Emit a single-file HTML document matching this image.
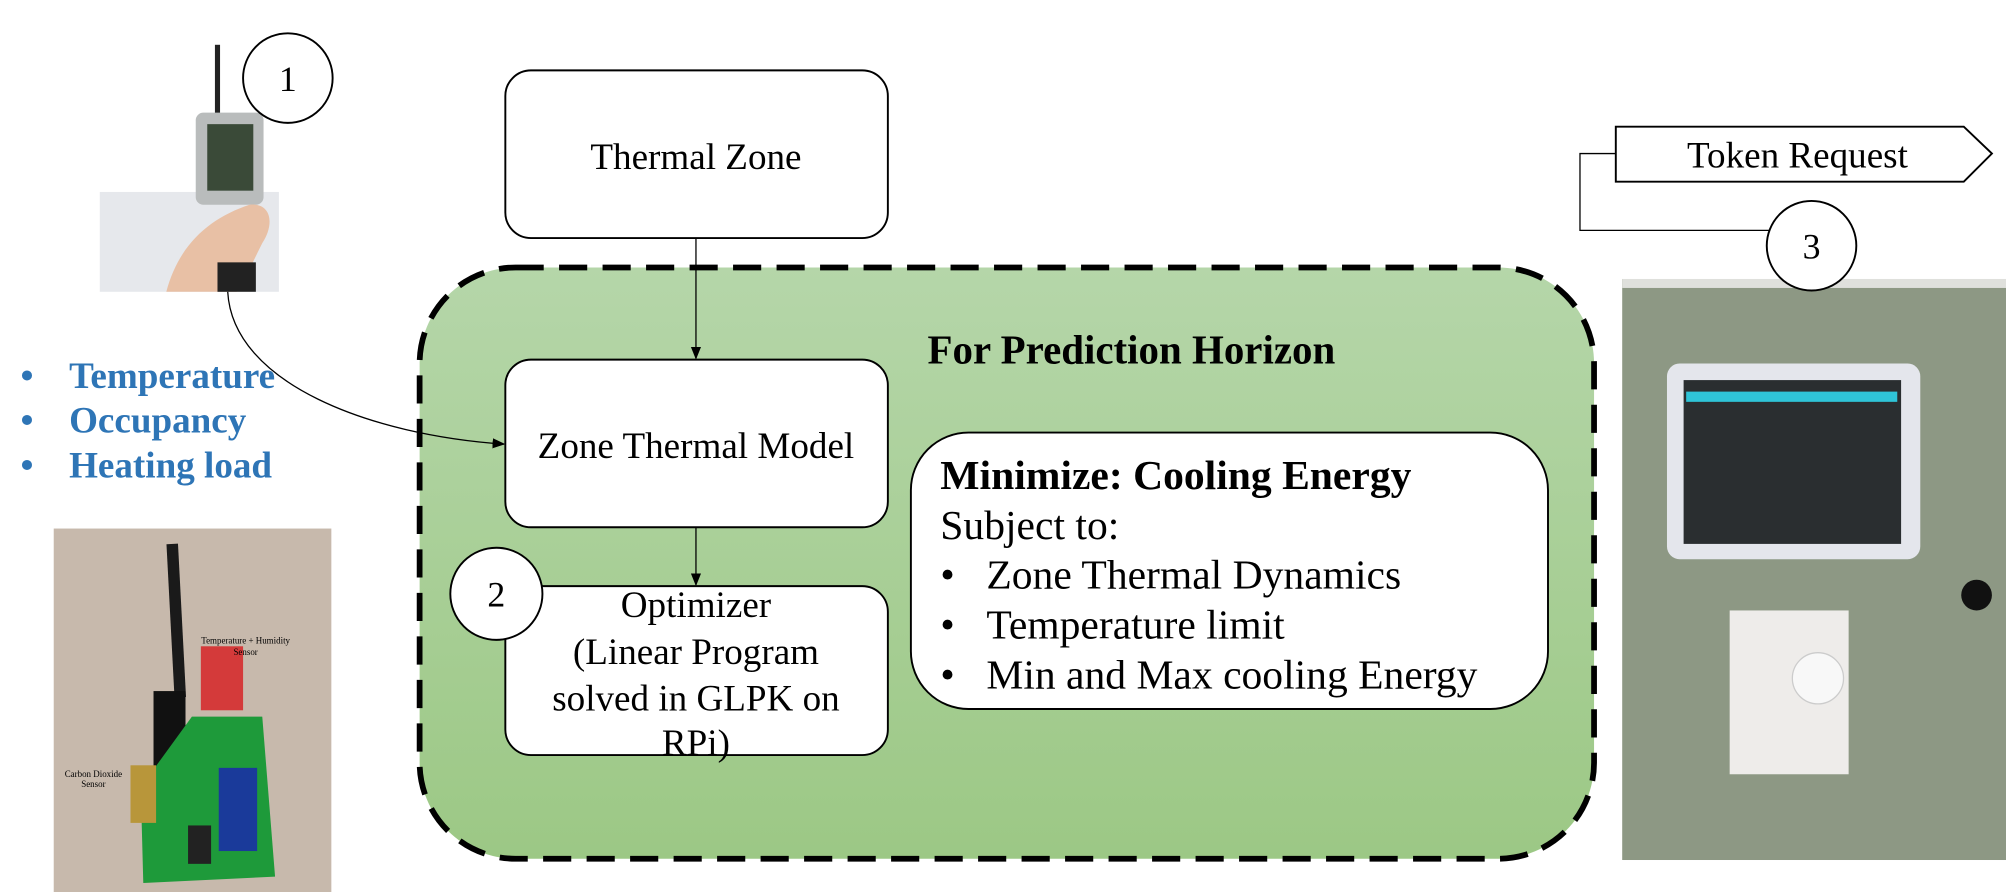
<!DOCTYPE html>
<html><head><meta charset="utf-8"><style>
html,body{margin:0;padding:0;background:#fff;width:2006px;height:892px;overflow:hidden}
svg{display:block}
text{font-family:"Liberation Serif",serif}
</style></head><body>
<svg width="2006" height="892" viewBox="0 0 1568 697" preserveAspectRatio="none" xmlns="http://www.w3.org/2000/svg">
<defs>
<linearGradient id="g" x1="0" y1="0" x2="0" y2="1"><stop offset="0" stop-color="#b5d6a9"/><stop offset="1" stop-color="#9cc885"/></linearGradient>
<marker id="ar" markerWidth="10" markerHeight="10" refX="9" refY="5" orient="auto" markerUnits="userSpaceOnUse"><path d="M0,1 L10,5 L0,9 z" fill="#000"/></marker>
</defs>
<!-- photo 1 -->
<rect x="78" y="0" width="198" height="228" fill="#fff"/>
<rect x="78" y="150" width="140" height="78" fill="#e6e8ec"/>
<rect x="168" y="35" width="4" height="55" fill="#222"/>
<rect x="153" y="88" width="53" height="72" rx="6" fill="#b9bcbc"/>
<rect x="162" y="97" width="36" height="52" fill="#3a4a38"/>
<path d="M130,228 C140,190 165,170 195,160 C212,158 215,175 205,190 C195,210 190,222 185,228 Z" fill="#e8c0a5"/>
<rect x="170" y="205" width="30" height="23" fill="#222"/>
<circle cx="225" cy="61" r="35" fill="#fff" stroke="#000" stroke-width="1.5"/>
<text x="225" y="71" font-size="28" text-anchor="middle">1</text>
<g font-size="29" font-weight="bold" fill="#2e75b6">
<text x="16" y="303">•</text><text x="54" y="303">Temperature</text>
<text x="16" y="338">•</text><text x="54" y="338">Occupancy</text>
<text x="16" y="373">•</text><text x="54" y="373">Heating load</text>
</g>
<!-- photo 2 -->
<rect x="42" y="413" width="217" height="284" fill="#c7b9ac"/>
<rect x="133" y="425" width="9" height="120" fill="#1a1a1a" transform="rotate(-3 137 480)"/>
<rect x="120" y="540" width="25" height="70" fill="#111"/>
<rect x="157" y="505" width="33" height="50" fill="#d43a3a"/>
<path d="M110,615 L150,560 L205,560 L215,685 L112,690 Z" fill="#1e9a3a"/>
<rect x="102" y="598" width="20" height="45" fill="#b8963a"/>
<rect x="171" y="600" width="30" height="65" fill="#1a3a9a"/>
<rect x="147" y="645" width="18" height="30" fill="#222"/>
<text x="192" y="503" font-size="7" font-family="Liberation Sans" text-anchor="middle">Temperature + Humidity</text>
<text x="192" y="512" font-size="7" font-family="Liberation Sans" text-anchor="middle">Sensor</text>
<text x="73" y="607" font-size="7" font-family="Liberation Sans" text-anchor="middle">Carbon Dioxide</text>
<text x="73" y="615" font-size="7" font-family="Liberation Sans" text-anchor="middle">Sensor</text>
<!-- green dashed box -->
<rect x="328" y="209" width="918" height="462" rx="75" fill="url(#g)" stroke="#000" stroke-width="4.5" stroke-dasharray="22,12"/>
<text x="725" y="284" font-size="32" font-weight="bold">For Prediction Horizon</text>
<!-- boxes -->
<rect x="395" y="55" width="299" height="131" rx="20" fill="#fff" stroke="#000" stroke-width="1.5"/>
<text x="544" y="132" font-size="29" text-anchor="middle">Thermal Zone</text>
<rect x="395" y="281" width="299" height="131" rx="20" fill="#fff" stroke="#000" stroke-width="1.5"/>
<text x="544" y="358" font-size="29" text-anchor="middle">Zone Thermal Model</text>
<rect x="395" y="458" width="299" height="132" rx="20" fill="#fff" stroke="#000" stroke-width="1.5"/>
<g font-size="29" text-anchor="middle">
<text x="544" y="482">Optimizer</text>
<text x="544" y="519">(Linear Program</text>
<text x="544" y="555">solved in GLPK on</text>
<text x="544" y="590">RPi)</text>
</g>
<line x1="544" y1="186" x2="544" y2="280" stroke="#000" stroke-width="1" marker-end="url(#ar)"/>
<line x1="544" y1="412" x2="544" y2="457" stroke="#000" stroke-width="1" marker-end="url(#ar)"/>
<path d="M178,228 C182,300 290,340 394,347" fill="none" stroke="#000" stroke-width="1" marker-end="url(#ar)"/>
<circle cx="388" cy="464" r="36" fill="#fff" stroke="#000" stroke-width="1.5"/>
<text x="388" y="474" font-size="28" text-anchor="middle">2</text>
<!-- minimize box -->
<rect x="712" y="338" width="498" height="216" rx="45" fill="#fff" stroke="#000" stroke-width="1.5"/>
<text x="735" y="382" font-size="32.5" font-weight="bold">Minimize: Cooling Energy</text>
<text x="735" y="421" font-size="32.5">Subject to:</text>
<g font-size="32.5">
<text x="735" y="460">•</text><text x="771" y="460">Zone Thermal Dynamics</text>
<text x="735" y="499">•</text><text x="771" y="499">Temperature limit</text>
<text x="735" y="538">•</text><text x="771" y="538">Min and Max cooling Energy</text>
</g>
<!-- token request -->
<polyline points="1263,120 1235,120 1235,180 1383,180" fill="none" stroke="#000" stroke-width="1"/>
<polygon points="1263,99 1535,99 1557,120 1535,142 1263,142" fill="#fff" stroke="#000" stroke-width="1.5"/>
<text x="1405" y="131" font-size="29" text-anchor="middle">Token Request</text>
<!-- photo 3 -->
<rect x="1268" y="218" width="300" height="454" fill="#8d9884"/>
<rect x="1268" y="218" width="300" height="7" fill="#dfe0dc"/>
<rect x="1303" y="284" width="198" height="153" rx="10" fill="#e4e6ec"/>
<rect x="1316" y="297" width="170" height="128" fill="#2a2e30"/>
<rect x="1318" y="306" width="165" height="8" fill="#2fc4d8"/>
<rect x="1352" y="477" width="93" height="128" fill="#eeecea"/>
<circle cx="1421" cy="530" r="20" fill="#f8f8f8" stroke="#ccc"/>
<circle cx="1545" cy="465" r="12" fill="#111"/>
<circle cx="1416" cy="192" r="35" fill="#fff" stroke="#000" stroke-width="1.5"/>
<text x="1416" y="202" font-size="28" text-anchor="middle">3</text>
</svg>
</body></html>
